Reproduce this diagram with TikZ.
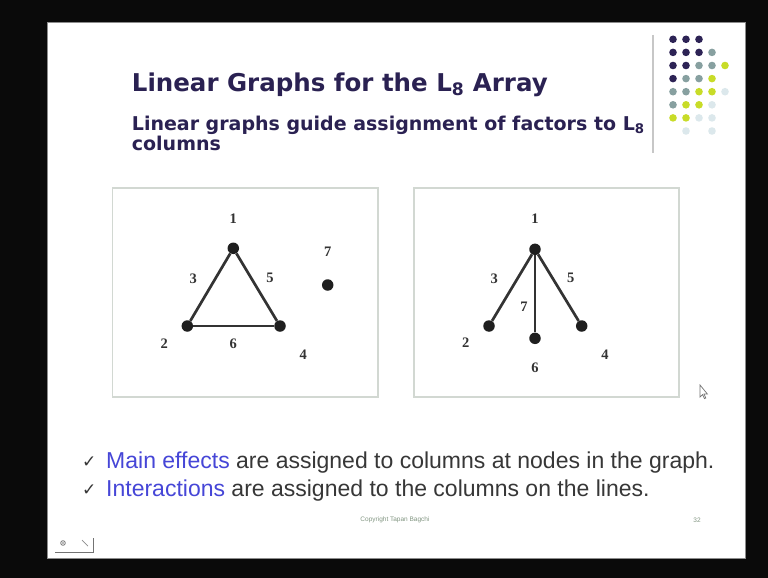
\documentclass[tikz,border=0pt]{standalone}
\usepackage{fontspec}
\setmainfont{Liberation Sans}
\newfontfamily\titlefont{DejaVu Sans}
\newfontfamily\labfont{Liberation Serif}
\newfontfamily\symfont{DejaVu Sans}
\definecolor{navy}{RGB}{42,33,82}
\definecolor{dnavy}{RGB}{45,35,85}
\definecolor{gteal}{RGB}{135,160,160}
\definecolor{ygreen}{RGB}{200,220,40}
\definecolor{pale}{RGB}{220,232,236}
\definecolor{bluetxt}{RGB}{70,70,215}
\definecolor{graytxt}{RGB}{55,55,55}
\definecolor{boxgray}{RGB}{210,216,210}
\definecolor{copyc}{RGB}{130,150,130}
\begin{document}
\begin{tikzpicture}[x=1pt,y=-1pt,
  dot/.style={circle,fill=black!88,inner sep=0pt,minimum size=11.5pt},
  edge/.style={draw=black!80,line width=2.7pt},
  lab/.style={font=\labfont\bfseries\fontsize{14.5}{14.5}\selectfont,text=black!80,inner sep=0pt},
  gbox/.style={draw=boxgray,line width=1.2pt},
  bul/.style={anchor=base west,inner sep=0pt,font=\fontsize{23}{23}\selectfont,text=graytxt},
  chk/.style={anchor=base west,inner sep=0pt,text=graytxt,font=\symfont\fontsize{17}{17}\selectfont}]
\useasboundingbox (0,0) rectangle (768,578);
\fill[black!96] (0,0) rectangle (768,578);
\fill[white] (47,22) rectangle (745,558);
\draw[black!45,line width=0.8pt] (47,22) rectangle (745,558);
% title
\node[anchor=base west,inner sep=0pt,text=navy,font=\titlefont\bfseries\fontsize{24.5}{24.5}\selectfont] (title) at (131.7,91.7) {Linear Graphs for the L\textsubscript{8} Array};
\node[anchor=base west,inner sep=0pt,text=navy,font=\titlefont\bfseries\fontsize{19}{19}\selectfont] (sub1) at (131.7,130) {Linear graphs guide assignment of factors to L\textsubscript{8}};
\node[anchor=base west,inner sep=0pt,text=navy,font=\titlefont\bfseries\fontsize{19}{19}\selectfont] (sub2) at (131.7,150) {columns};
% divider and dots
\draw[black!22,line width=1.5pt] (653,35) -- (653,153);
\foreach \r/\list in {0/{0/dnavy,1/dnavy,2/dnavy},
                      1/{0/dnavy,1/dnavy,2/dnavy,3/gteal},
                      2/{0/dnavy,1/dnavy,2/gteal,3/gteal,4/ygreen},
                      3/{0/dnavy,1/gteal,2/gteal,3/ygreen},
                      4/{0/gteal,1/gteal,2/ygreen,3/ygreen,4/pale},
                      5/{0/gteal,1/ygreen,2/ygreen,3/pale},
                      6/{0/ygreen,1/ygreen,2/pale,3/pale},
                      7/{1/pale,3/pale}}{
  \foreach \c/\col in \list {
    \fill[\col] ({673+13*\c},{39.3+13.1*\r}) circle (3.8pt);
  }
}
% boxes
\draw[gbox] (112.7,188) rectangle (378,397);
\draw[gbox] (414,188) rectangle (679,397);
% left graph
\node[dot] (a1) at (233.3,248.3) {};
\node[dot] (a2) at (187.3,326) {};
\node[dot] (a4) at (280,326) {};
\node[dot] (a7) at (327.7,285) {};
\draw[edge] (a1) -- (a2);
\draw[edge] (a1) -- (a4);
\draw[edge] (a2) -- (a4);
\node[lab] (la1) at (233.3,218.3) {1};
\node[lab] (la3) at (193.3,278.3) {3};
\node[lab] (la5) at (270,278.3) {5};
\node[lab] (la7) at (327.7,251.7) {7};
\node[lab] (la2) at (164.3,343.3) {2};
\node[lab] (la6) at (233.3,343.3) {6};
\node[lab] (la4) at (303.3,355) {4};
% right graph
\node[dot] (b1) at (535,249.3) {};
\node[dot] (b2) at (489,326) {};
\node[dot] (b6) at (535,338.3) {};
\node[dot] (b4) at (581.7,326) {};
\draw[edge] (b1) -- (b2);
\draw[edge] (b1) -- (b6);
\draw[edge] (b1) -- (b4);
\node[lab] (lb1) at (535,218.3) {1};
\node[lab] (lb3) at (494.3,278.3) {3};
\node[lab] (lb7) at (524,306.7) {7};
\node[lab] (lb5) at (570.7,278.3) {5};
\node[lab] (lb2) at (465.7,342.7) {2};
\node[lab] (lb6) at (535,367.3) {6};
\node[lab] (lb4) at (605,355) {4};
% cursor
\draw[black!55,fill=white,line width=0.7pt] (700,385) -- (700,397) -- (702.6,394.6) -- (704.4,398.6) -- (705.8,398) -- (704,394) -- (707.4,394) -- cycle;
% bullets
\node[chk] (ck1) at (82,467) {✓};
\node[chk] (ck2) at (82,495) {✓};
\node[bul] (b1t) at (106,468) {\textcolor{bluetxt}{Main effects} are assigned to columns at nodes in the graph.};
\node[bul] (b2t) at (106,496) {\textcolor{bluetxt}{Interactions} are assigned to the columns on the lines.};
% footer
\node[inner sep=0pt,text=copyc,font=\fontsize{6.5}{6.5}\selectfont] (copy) at (395,520) {Copyright Tapan Bagchi};
\node[inner sep=0pt,text=copyc,font=\fontsize{6.5}{6.5}\selectfont] (page) at (697,520) {32};
% nav icon
\draw[black!55,line width=0.8pt] (63,543) circle (2.3pt);
\fill[black!55] (63,543) circle (0.8pt);
\draw[black!55,line width=0.9pt] (55,552) -- (93,552) -- (93,538);
\draw[black!45,line width=0.7pt] (82,540) -- (88,546);
\end{tikzpicture}
\end{document}
